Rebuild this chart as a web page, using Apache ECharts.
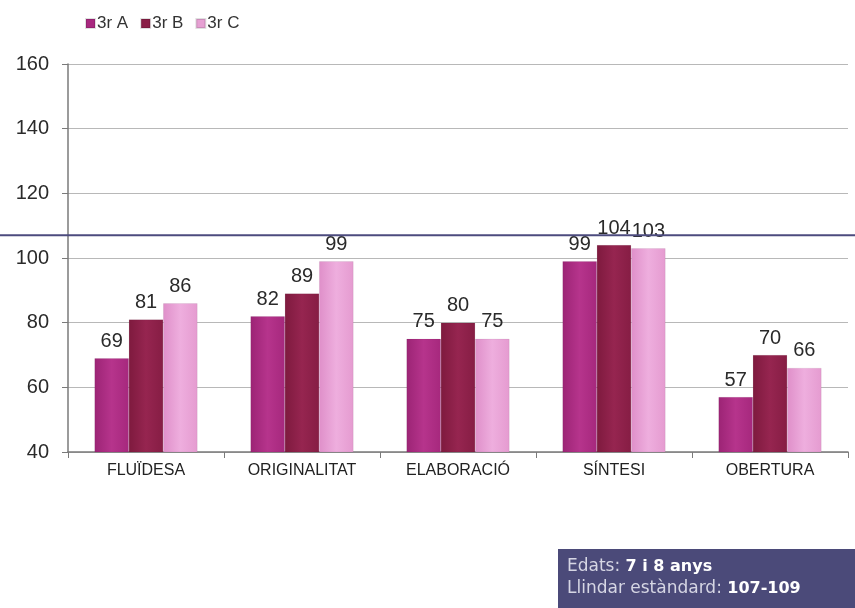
<!DOCTYPE html>
<html>
<head>
<meta charset="utf-8">
<script src="https://cdn.jsdelivr.net/npm/echarts@6/dist/echarts.min.js"></script>
<style>
  html, body { margin: 0; padding: 0; background: #fff; }
  #chart { width: 855px; height: 608px; }
</style>
</head>
<body>
<div id="chart"></div>
<script>
// chart data
var categories = ['FLUÏDESA', 'ORIGINALITAT', 'ELABORACIÓ', 'SÍNTESI', 'OBERTURA'];
var seriesNames = ['3r A', '3r B', '3r C'];
var valuesA = [69, 82, 75, 99, 57];
var valuesB = [81, 89, 80, 104, 70];
var valuesC = [86, 99, 75, 103, 66];
var threshold = 107; // llindar estàndard
var yTicks = [40, 60, 80, 100, 120, 140, 160];

var FONT = '"Liberation Sans", Arial, sans-serif';

// bevel-ish gradient for each bar colour
function barFill(dark, mid, light) {
  return new echarts.graphic.LinearGradient(0, 0, 1, 0, [
    { offset: 0, color: dark },
    { offset: 0.5, color: light },
    { offset: 1, color: mid }
  ]);
}

var colors = [
  barFill('#9c2475', '#a6287d', '#b6348c'),
  barFill('#7e1a3e', '#861d44', '#962550'),
  barFill('#df8fc9', '#e59bd0', '#eeaede')
];
var legendColors = ['#a8287f', '#8a1f47', '#e6a0d3'];

function makeSeries(name, data, i) {
  return {
    name: name,
    type: 'bar',
    data: data,
    barGap: '0%',
    barCategoryGap: '34%',
    itemStyle: { color: colors[i], borderColor: 'rgba(0,0,0,0.12)', borderWidth: 0.5 },
    label: {
      show: true,
      position: 'top',
      distance: 7,
      color: '#2a2a2a',
      fontSize: 20,
      fontFamily: FONT
    }
  };
}

var chart = echarts.init(document.getElementById('chart'));
chart.setOption({
  animation: false,
  color: legendColors,
  textStyle: { fontFamily: FONT },
  legend: {
    left: 80,
    top: 10,
    icon: 'rect',
    itemWidth: 9,
    itemHeight: 9,
    itemGap: 12,
    textStyle: { fontSize: 17, color: '#333', fontFamily: FONT, padding: [0, 0, 0, -3] },
    data: seriesNames.map(function (n, i) {
      return { name: n, itemStyle: { color: legendColors[i] } };
    })
  },
  grid: { left: 68, right: 7, top: 64, bottom: 156 },
  xAxis: {
    type: 'category',
    data: categories,
    axisLine: { lineStyle: { color: '#7a7a7a', width: 1.5 } },
    axisTick: { show: true, length: 6, lineStyle: { color: '#7a7a7a' } },
    axisLabel: { color: '#222', fontSize: 16, margin: 11, fontFamily: FONT }
  },
  yAxis: {
    type: 'value',
    min: yTicks[0],
    max: yTicks[yTicks.length - 1],
    interval: 20,
    axisLine: { show: true, lineStyle: { color: '#7a7a7a', width: 1.5 } },
    axisTick: { show: true, length: 6, lineStyle: { color: '#7a7a7a' } },
    axisLabel: { color: '#2a2a2a', fontSize: 20, margin: 19, fontFamily: FONT },
    splitLine: { lineStyle: { color: '#b8b8b8', width: 1.2 } }
  },
  series: [
    makeSeries(seriesNames[0], valuesA, 0),
    makeSeries(seriesNames[1], valuesB, 1),
    makeSeries(seriesNames[2], valuesC, 2)
  ]
});

// threshold line across the whole picture, and the info box
var ty = chart.convertToPixel({ yAxisIndex: 0 }, threshold);
chart.setOption({
  graphic: [
    {
      type: 'line',
      z: 100,
      shape: { x1: 0, y1: ty, x2: 855, y2: ty },
      style: { stroke: '#4c4b7e', lineWidth: 2 }
    },
    {
      type: 'rect',
      left: 558,
      top: 549,
      shape: { width: 297, height: 59 },
      style: { fill: '#4b4a79' }
    },
    {
      type: 'text',
      left: 567,
      top: 558,
      style: {
        text: '{l|Edats: }{b|7 i 8 anys}\n{l|Llindar estàndard: }{b|107-109}',
        rich: {
          l: { fill: '#d6d6e4', fontSize: 17, fontFamily: 'DejaVu Sans', lineHeight: 22 },
          b: { fill: '#ffffff', fontSize: 16, fontWeight: 'bold', fontFamily: 'DejaVu Sans', lineHeight: 22 }
        }
      }
    }
  ]
});
</script>
</body>
</html>
